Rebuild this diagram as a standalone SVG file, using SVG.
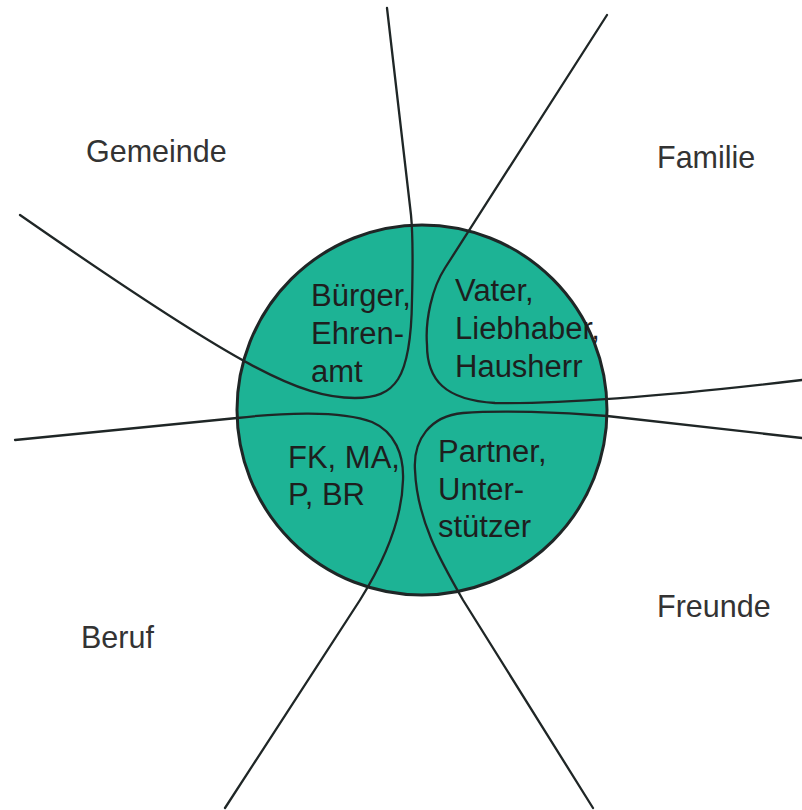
<svg xmlns="http://www.w3.org/2000/svg" width="802" height="810" viewBox="0 0 802 810">
<style>
.bg{fill:#ffffff}
.disc{fill:#1db395;stroke:#1f2626;stroke-width:3}
.ln{fill:none;stroke:#1f2626;stroke-width:2.3;stroke-linecap:round;stroke-linejoin:round}
.t{font-family:"Liberation Sans",Arial,sans-serif;font-size:31px;fill:#1e1e1e}
.o{font-family:"Liberation Sans",Arial,sans-serif;font-size:30.5px;fill:#333333}
</style>
<rect class="bg" x="0" y="0" width="802" height="810"/>
<g id="circle">
<circle class="disc" cx="422" cy="410" r="185"/>
</g>
<g id="connectors">
<path class="ln" d="M 387,8 L 411,215 C 413,235 413,260 412,300 C 411,380 395,398 355,398 C 300,398 240,368 20,215"/>
<path class="ln" d="M 607,15 L 445,268 C 432,288 425,320 427,345 C 427,380 445,400 495,403 C 560,404 650,398 802,380"/>
<path class="ln" d="M 802,438 L 607,416 C 560,412 500,410 463,413 C 430,416 413,440 415,470 C 417,520 440,560 463,600 L 593,808"/>
<path class="ln" d="M 15,440 L 237,418 C 280,413 340,410 372,422 C 395,432 404,455 403,480 C 402,520 385,560 360,600 L 225,808"/>
</g>
<g id="gemeinde">
<text class="o" x="86" y="162">Gemeinde</text>
<text class="t" x="311" y="306">Bürger,</text>
<text class="t" x="311" y="344">Ehren-</text>
<text class="t" x="311" y="382">amt</text>
</g>
<g id="familie">
<text class="o" x="657" y="168">Familie</text>
<text class="t" x="455" y="301">Vater,</text>
<text class="t" x="455" y="339">Liebhaber,</text>
<text class="t" x="455" y="377">Hausherr</text>
</g>
<g id="beruf">
<text class="o" x="81" y="648">Beruf</text>
<text class="t" x="288" y="468">FK, MA,</text>
<text class="t" x="288" y="505">P, BR</text>
</g>
<g id="freunde">
<text class="o" x="657" y="617">Freunde</text>
<text class="t" x="438" y="462">Partner,</text>
<text class="t" x="438" y="500">Unter-</text>
<text class="t" x="438" y="537">stützer</text>
</g>
</svg>
